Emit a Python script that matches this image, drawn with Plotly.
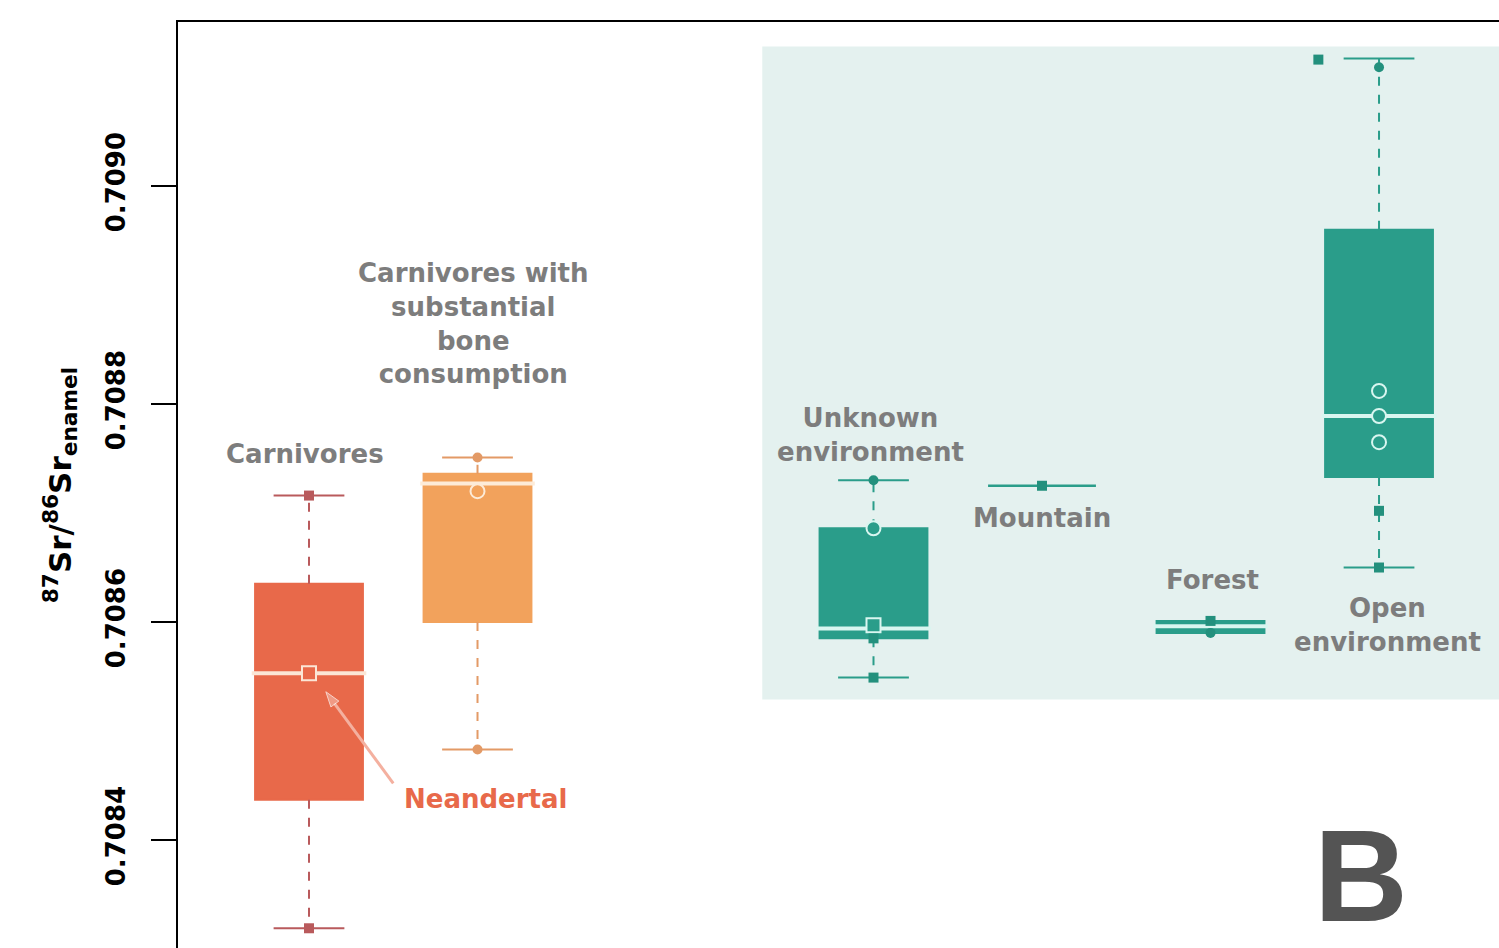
import plotly.graph_objects as go

# ---- data ----
groups = ["Carnivores", "Carnivores with substantial bone consumption",
          "Unknown environment", "Mountain", "Forest", "Open environment"]
positions = [1, 2, 4.35, 5.35, 6.35, 7.35]
lower = [0.708319, 0.708483, 0.708549, 0.708725, 0.708590, 0.708650]
q1 = [0.708437, 0.708600, 0.708585, 0.708725, 0.708590, 0.708733]
median = [0.708553, 0.708727, 0.708594, 0.708725, 0.708596, 0.708789]
q3 = [0.708635, 0.708736, 0.708686, 0.708725, 0.708601, 0.708960]
upper = [0.708716, 0.708751, 0.708730, 0.708725, 0.708601, 0.709117]

point_group = [0, 0, 0,
               1, 1, 1,
               2, 2, 2, 2, 2,
               3,
               4, 4,
               5, 5, 5, 5, 5, 5, 5]
point_value = [0.708716, 0.708553, 0.708319,
               0.708751, 0.708720, 0.708483,
               0.708730, 0.708686, 0.708597, 0.708585, 0.708549,
               0.708725,
               0.708601, 0.708590,
               0.709116, 0.709109, 0.708812, 0.708789, 0.708765, 0.708702, 0.708650]
point_offset = [0, 0, 0,
                0, 0, 0,
                0, 0, 0, 0, 0,
                0,
                0, 0,
                -0.36, 0, 0, 0, 0, 0, 0]
point_style = ["fs", "os", "fs",
               "fc", "oc", "fc",
               "fc", "oc", "os", "fs", "fs",
               "fs",
               "fs", "fc",
               "fs", "fc", "oc", "oc", "oc", "fs", "fs"]

fill_colors = ["#e8694a", "#f2a25c", "#2a9d8a", "#2a9d8a", "#2a9d8a", "#2a9d8a"]
whisker_colors = ["#b95a5c", "#e39a66", "#2a9d8a", "#2a9d8a", "#2a9d8a", "#2a9d8a"]
median_colors = ["#fbe6d6", "#fdebd8", "#d9f6f0", "#d9f6f0", "#d9f6f0", "#d9f6f0"]

yticks = [0.7084, 0.7086, 0.7088, 0.7090]
ytick_text = ["0.7084", "0.7086", "0.7088", "0.7090"]

BOX_W = 0.64
CAP_W = 0.42

fig = go.Figure()
shapes = []

# shaded environment panel
shapes.append(dict(type="rect", xref="x", yref="y", x0=3.69, x1=9.0,
                   y0=0.708529, y1=0.709128, fillcolor="#e4f1ef",
                   line=dict(width=0), layer="below"))

for i, pos in enumerate(positions):
    c = fill_colors[i]
    degenerate = q1[i] == q3[i]
    shapes.append(dict(type="rect", xref="x", yref="y",
                       x0=pos - BOX_W / 2, x1=pos + BOX_W / 2,
                       y0=q1[i], y1=q3[i], fillcolor=c,
                       line=dict(color=c, width=2.5 if degenerate else 2),
                       layer="below"))
    wc = whisker_colors[i]
    if upper[i] > q3[i]:
        fig.add_trace(go.Scatter(x=[pos, pos], y=[q3[i], upper[i]], mode="lines",
                                 line=dict(color=wc, width=2, dash="dash"),
                                 showlegend=False, hoverinfo="skip"))
    if lower[i] < q1[i]:
        fig.add_trace(go.Scatter(x=[pos, pos], y=[q1[i], lower[i]], mode="lines",
                                 line=dict(color=wc, width=2, dash="dash"),
                                 showlegend=False, hoverinfo="skip"))
    if not degenerate:
        for v in (upper[i], lower[i]):
            fig.add_trace(go.Scatter(x=[pos - CAP_W / 2, pos + CAP_W / 2], y=[v, v],
                                     mode="lines", line=dict(color=wc, width=2),
                                     showlegend=False, hoverinfo="skip"))
        fig.add_trace(go.Scatter(x=[pos - BOX_W / 2 - 0.02, pos + BOX_W / 2 + 0.02],
                                 y=[median[i], median[i]], mode="lines",
                                 line=dict(color=median_colors[i], width=4),
                                 showlegend=False, hoverinfo="skip"))

# points
sym_map = {"fs": "square", "fc": "circle", "oc": "circle", "os": "square"}
for k, g in enumerate(point_group):
    st = point_style[k]
    col = fill_colors[g]
    if st.startswith("f"):
        mk = dict(symbol=sym_map[st], size=10,
                  color=whisker_colors[g] if g < 2 else "#23907d",
                  line=dict(width=0))
    else:
        mk = dict(symbol=sym_map[st], size=14, color=col,
                  line=dict(width=2, color=median_colors[g]))
    fig.add_trace(go.Scatter(x=[positions[g] + point_offset[k]], y=[point_value[k]],
                             mode="markers", marker=mk, showlegend=False,
                             hoverinfo="skip"))

# arrow pointing to the Neandertal value
arrow_x = [1.50, 1.10]
arrow_y = [0.708452, 0.708536]
fig.add_trace(go.Scatter(x=arrow_x, y=arrow_y, mode="lines+markers",
                         line=dict(color="#f4b09f", width=3),
                         marker=dict(symbol=["circle", "arrow"], size=[0, 16],
                                     angleref="previous", color="#f4b09f"),
                         showlegend=False, hoverinfo="skip"))

gray = "#7d7d7d"
lab_font = dict(family="DejaVu Sans", size=26, color=gray, weight="bold")
labels = [
    ("Carnivores", 0.976, 0.708754),
    ("Carnivores with<br>substantial<br>bone<br>consumption", 1.975, 0.708874),
    ("Unknown<br>environment", 4.333, 0.708772),
    ("Mountain", 5.35, 0.708695),
    ("Forest", 6.36, 0.708639),
    ("Open<br>environment", 7.40, 0.708597),
]
annotations = []
for t, x, y in labels:
    annotations.append(dict(text=t, x=x, y=y, xref="x", yref="y", showarrow=False,
                            font=lab_font, align="center"))

annotations.append(dict(text="Neandertal", x=2.046, y=0.708438, xref="x", yref="y",
                        showarrow=False,
                        font=dict(family="DejaVu Sans", size=26, color="#e8694a",
                                  weight="bold")))
annotations.append(dict(text="B", x=7.245, y=0.708367, xref="x", yref="y",
                        showarrow=False,
                        font=dict(family="Liberation Sans", size=130, color="#545454",
                                  weight="bold")))

fig.update_layout(
    width=1499, height=948,
    margin=dict(l=178, r=0, t=22, b=0),
    paper_bgcolor="white", plot_bgcolor="white",
    shapes=shapes, annotations=annotations,
    showlegend=False,
    xaxis=dict(range=[0.2226, 8.062], showgrid=False, zeroline=False,
               showticklabels=False, ticks="", showline=True, linecolor="black",
               linewidth=2, side="top"),
    yaxis=dict(range=[0.7083009, 0.7091505], showgrid=False, zeroline=False,
               tickvals=yticks, ticktext=ytick_text, ticks="outside", ticklen=25,
               tickwidth=2, tickcolor="black", tickangle=-90,
               tickfont=dict(family="DejaVu Sans", size=26, color="black", weight="bold"),
               showline=True, linecolor="black", linewidth=2,
               ticklabelstandoff=16,
               title=dict(text="<sup>87</sup>Sr/<sup>86</sup>Sr<sub>enamel</sub>",
                          font=dict(family="DejaVu Sans", size=31, color="black",
                                    weight="bold"),
                          standoff=20)),
)

fig.write_html("out.html")
